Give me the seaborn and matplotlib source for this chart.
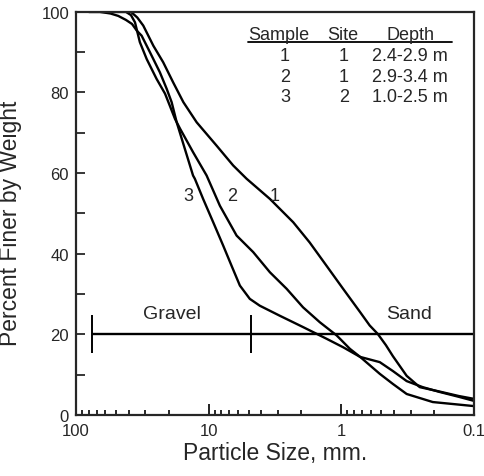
import numpy as np
import pandas as pd
import matplotlib
matplotlib.use('Agg')
import matplotlib.pyplot as plt
from matplotlib.ticker import FixedLocator, LogLocator, NullFormatter
import seaborn as sns

# particle size (mm) vs percent finer
size_1 = [80, 38.5, 34.5, 31.1, 26.1, 22.0, 18.5, 15.5, 12.3, 8.7, 6.53, 5.17, 3.45, 2.30,
          1.73, 1.29, 0.968, 0.72, 0.61, 0.53, 0.46, 0.408, 0.321, 0.256, 0.181, 0.13, 0.1]
pct_1 = [100, 100, 98.6, 96.6, 91.6, 87.5, 82.5, 77.6, 72.6, 66.8, 61.9, 58.6, 53.6, 47.8,
         42.8, 37.0, 31.3, 25.5, 22.2, 20.1, 17.3, 14.6, 9.7, 6.9, 5.8, 4.7, 4.0]

size_2 = [80, 42.0, 38.5, 35.9, 33.0, 29.3, 24.7, 21.3, 19.6, 17.9, 16.4, 13.1, 10.35,
          8.22, 6.15, 4.61, 3.45, 2.58, 1.94, 1.45, 1.08, 0.86, 0.72, 0.512, 0.408, 0.321,
          0.204, 0.1]
pct_2 = [100, 100, 99.2, 97.4, 92.5, 88.3, 83.4, 79.7, 76.7, 73.4, 71.0, 65.2, 59.4,
         51.9, 44.5, 40.4, 35.4, 31.3, 26.7, 23.0, 19.7, 16.4, 14.4, 10.2, 7.7, 5.2,
         3.2, 2.2]

size_3 = [80, 66.0, 55.0, 48.0, 42.0, 37.8, 34.7, 32.0, 27.7, 23.3, 20.7, 19.0, 17.4, 15.1,
          13.1, 12.7, 11.0, 9.23, 7.76, 6.71, 5.81, 4.89, 4.11, 2.9, 1.94, 1.29, 0.968,
          0.72, 0.512, 0.408, 0.321, 0.243, 0.181, 0.13, 0.1]
pct_3 = [100, 100, 99.6, 99.0, 98.0, 97.0, 95.3, 94.1, 90.0, 85.0, 80.9, 77.6, 72.6, 66.0,
         59.4, 58.6, 53.6, 47.8, 42.0, 37.0, 32.1, 28.8, 27.1, 24.6, 21.8, 18.9, 16.8,
         14.4, 13.1, 10.9, 8.4, 6.9, 5.7, 4.5, 3.5]

curve_names = ['1', '2', '3']
label_size = [3.16, 6.67, 14.3]
label_pct = [54.5, 54.5, 54.5]

# gravel / sand split
class_bounds = [76.2, 4.75]
class_level = 20
class_names = ['Gravel', 'Sand']
class_text_size = [19.0, 0.31]

table_header = ['Sample', 'Site', 'Depth']
table_sample = ['1', '2', '3']
table_site = ['1', '1', '2']
table_depth = ['2.4-2.9 m', '2.9-3.4 m', '1.0-2.5 m']

sns.set_style('ticks')
plt.rcParams['font.family'] = ['Liberation Sans', 'DejaVu Sans']

fig = plt.figure(figsize=(4.84, 4.77), dpi=100)
ax = fig.add_axes([0.157, 0.128, 0.822, 0.845])
ax.set_xscale('log')
ax.set_axisbelow(False)

for xs, ys in [(size_1, pct_1), (size_2, pct_2), (size_3, pct_3)]:
    df = pd.DataFrame({'size': xs, 'pct': ys})
    sns.lineplot(data=df, x='size', y='pct', sort=False, estimator=None,
                 color='black', lw=1.7, ax=ax)

ax.hlines(class_level, class_bounds[0], 0.1, color='black', lw=1.7)
ax.vlines(class_bounds, class_level - 4.7, class_level + 4.7, color='black', lw=1.4)
for name, xs in zip(class_names, class_text_size):
    ax.text(xs, 25.2, name, ha='center', va='center', fontsize=14)

for name, xs, ys in zip(curve_names, label_size, label_pct):
    ax.text(xs, ys, name, ha='center', va='center', fontsize=13)

ax.set_xlim(100, 0.1)
ax.set_ylim(0, 100)

ax.set_xticks([100, 10, 1, 0.1], ['100', '10', '1', '0.1'])
ax.xaxis.set_minor_locator(LogLocator(base=10, subs=np.arange(2, 10) * 1.0, numticks=20))
ax.xaxis.set_minor_formatter(NullFormatter())
ax.set_yticks(np.arange(0, 101, 20))
ax.yaxis.set_minor_locator(FixedLocator(np.arange(10, 100, 20)))

ax.tick_params(axis='x', which='major', direction='in', length=8, width=1.3,
               labelsize=12, pad=6, top=False)
ax.tick_params(axis='x', which='minor', direction='in', length=3.5, width=1.2,
               top=False, bottom=True)
ax.tick_params(axis='y', which='both', direction='in', length=6.5, width=1.3,
               labelsize=12, pad=5, right=False)

# the log ticks along the bottom also as plain short segments, so they always show
minor_sizes = [m * 10.0 ** e for e in (-1, 0, 1) for m in range(2, 10)]
ax.vlines(minor_sizes, 0, 0.012, transform=ax.get_xaxis_transform(),
          color='0.15', lw=1.2, zorder=3, clip_on=False)
ax.vlines([10, 1], 0, 0.027, transform=ax.get_xaxis_transform(),
          color='0.15', lw=1.3, zorder=3, clip_on=False)

for sp in ax.spines.values():
    sp.set_linewidth(1.6)
    sp.set_visible(True)

ax.set_xlabel('Particle Size, mm.', fontsize=16.5, labelpad=2)
ax.set_ylabel('Percent Finer by Weight', fontsize=16.5)
ax.yaxis.set_label_coords(-0.136, 0.479)

# little table in the top right corner
col_x = [0.51, 0.67, 0.84]
for name, cx in zip(table_header, col_x):
    ax.text(cx, 0.945, name, transform=ax.transAxes, ha='center', va='center', fontsize=13)
ax.plot([0.432, 0.945], [0.925, 0.925], transform=ax.transAxes, color='black',
        lw=1.3, clip_on=False)
row_y = [0.891, 0.84, 0.789]
for s, site, depth, ry in zip(table_sample, table_site, table_depth, row_y):
    ax.text(0.525, ry, s, transform=ax.transAxes, ha='center', va='center', fontsize=13)
    ax.text(0.673, ry, site, transform=ax.transAxes, ha='center', va='center', fontsize=13)
    ax.text(0.839, ry, depth, transform=ax.transAxes, ha='center', va='center', fontsize=13)

ax.set_xlim(100, 0.1)
ax.set_ylim(0, 100)

fig.savefig('out.png', dpi=100)
plt.close(fig)
